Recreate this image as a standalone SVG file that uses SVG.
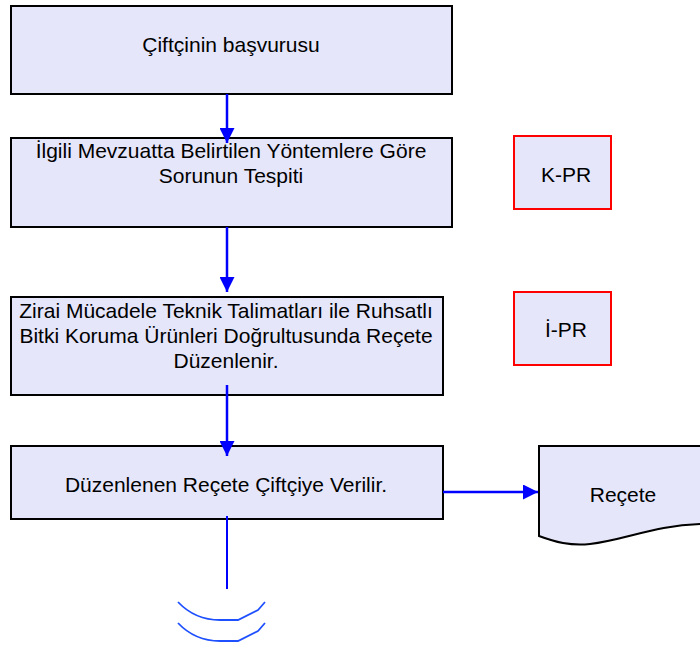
<svg xmlns="http://www.w3.org/2000/svg" width="700" height="646" viewBox="0 0 700 646">
<defs>
<style>
.box{fill:#E6E6FA;stroke:#000;stroke-width:2}
.rbox{fill:#E6E6FA;stroke:#FF0000;stroke-width:2}
.t{font-family:"Liberation Sans",Arial,sans-serif;font-size:21px;fill:#000;text-anchor:middle}
.c{stroke:#0000FF;stroke-width:2.5;fill:none}
.arc{stroke:#1E50FF;stroke-width:1.8;fill:none}
</style>
<marker id="ah" viewBox="0 0 10 10" refX="10" refY="5" markerWidth="15" markerHeight="15" markerUnits="userSpaceOnUse" orient="auto">
<path d="M0,0 L10,5 L0,10 Z" fill="#0000FF"/>
</marker>
</defs>
<rect width="700" height="646" fill="#fff"/>
<g id="n1">
<rect class="box" x="11" y="6" width="441" height="88"/>
<text class="t" x="231" y="52">Çiftçinin başvurusu</text>
</g>
<g id="n2">
<rect class="box" x="11" y="138" width="441" height="89"/>
<text class="t" x="231" y="158">İlgili Mevzuatta Belirtilen Yöntemlere Göre</text>
<text class="t" x="231" y="183">Sorunun Tespiti</text>
</g>
<g id="n3">
<rect class="box" x="11" y="297" width="432" height="98"/>
<text class="t" x="226" y="318">Zirai Mücadele Teknik Talimatları ile Ruhsatlı</text>
<text class="t" x="226" y="343">Bitki Koruma Ürünleri Doğrultusunda Reçete</text>
<text class="t" x="226" y="368">Düzenlenir.</text>
</g>
<g id="n4">
<rect class="box" x="11" y="446" width="432" height="73"/>
<text class="t" x="226" y="492">Düzenlenen Reçete Çiftçiye Verilir.</text>
</g>
<g id="kpr">
<rect class="rbox" x="514" y="136" width="97" height="73"/>
<text class="t" x="566" y="182">K-PR</text>
</g>
<g id="ipr">
<rect class="rbox" x="514" y="292" width="97" height="73"/>
<text class="t" x="566" y="337">İ-PR</text>
</g>
<g id="recete">
<path class="box" d="M702,446 L539,446 L539,536 C555,542 570,546 590,544 C625,540 655,525 702,524"/>
<text class="t" x="623" y="502">Reçete</text>
</g>
<g id="connectors">
<path class="c" d="M227,94 L227,143" marker-end="url(#ah)"/>
<path class="c" d="M227,227 L227,292" marker-end="url(#ah)"/>
<path class="c" d="M227,385 L227,456" marker-end="url(#ah)"/>
<path class="c" d="M443,492 L538,492" marker-end="url(#ah)"/>
<path class="c" d="M227,516 L227,589" style="stroke-width:2"/>
<path class="arc" d="M178,602 Q195,620 220,620 L238,620 L258,610 L265,602"/>
<path class="arc" d="M178,623 Q195,641 220,641 L238,641 L258,631 L265,623"/>
</g>
</svg>
